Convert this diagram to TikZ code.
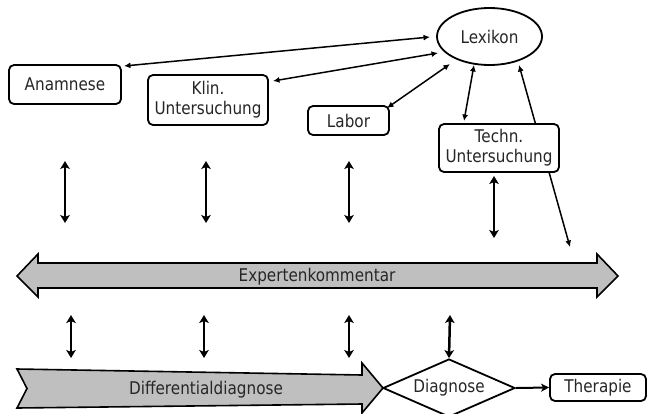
\documentclass[tikz,border=0pt]{standalone}
\usepackage{fontspec}
\setmainfont{DejaVu Sans}[FakeStretch=0.87]
\usetikzlibrary{shapes.geometric,arrows.meta}

\begin{document}
\begin{tikzpicture}[x=1pt,y=-1pt,
  lbl/.style={font=\fontsize{17.5}{20}\selectfont,text=black!85,align=center,inner sep=0pt},
  box/.style={lbl,draw=black,line width=1.8pt,rounded corners=5pt,fill=white},
  thin/.style={line width=1.5pt,{Latex[length=6.5pt,width=6pt]}-{Latex[length=6.5pt,width=6pt]}},
  thick/.style={line width=2.5pt,{Stealth[length=8pt,width=9.5pt,inset=2pt]}-{Stealth[length=8pt,width=9.5pt,inset=2pt]}},
  bigarrow/.style={draw=black,line width=1.6pt,fill=black!25,line join=miter}]
\useasboundingbox (0,0) rectangle (647,413);
\clip (0,0) rectangle (647,413);

% free ends of the connectors
\coordinate (lexA) at (430,37);
\coordinate (lexK) at (438,53);
\coordinate (lexL) at (450,64);
\coordinate (lexT) at (474,65);
\coordinate (lexE) at (519,65);
\coordinate (anaT) at (124,66);
\coordinate (kliT) at (273,81);
\coordinate (labT) at (387,108);
\coordinate (tecT) at (464,121);
\coordinate (expT) at (570,247);

% line from the comment arrow up to the lexicon, passing behind the box
\draw[thin] (expT) -- (lexE);

% sources
\node[box,minimum width=112pt,minimum height=39pt] (ana) at (65,84.5) {Anamnese};
\node[box,minimum width=120pt,minimum height=50pt] (kli) at (208,100) {Klin.\\Untersuchung};
\node[box,minimum width=81pt,minimum height=29pt] (lab) at (348.5,120.5) {Labor};
\node[box,minimum width=120pt,minimum height=48pt] (tec) at (499,148) {Techn.\\Untersuchung};
\node[lbl,draw=black,line width=1.8pt,ellipse,minimum width=105pt,minimum height=57pt] (lex) at (489.5,36.5) {Lexikon};

\draw[thin] (anaT) -- (lexA);
\draw[thin] (kliT) -- (lexK);
\draw[thin] (labT) -- (lexL);
\draw[thin] (tecT) -- (lexT);

% expert comment (double arrow)
\draw[bigarrow] (17,276) -- (38,254) -- (38,263) -- (597,263) -- (597,254) -- (618,276)
  -- (597,297) -- (597,288) -- (38,288) -- (38,297) -- cycle;
\node[lbl] (exp) at (317,277) {Expertenkommentar};

% differential diagnosis (arrow)
\draw[bigarrow] (17,369) -- (362,375) -- (362,363) -- (383,388) -- (362,413) -- (362,404)
  -- (17,408) -- (27,388.5) -- cycle;
\node[lbl] (dif) at (206,390) {Differentialdiagnose};

\node[lbl,draw=black,line width=1.8pt,fill=white,diamond,aspect=2.3,minimum width=132pt,minimum height=58pt] (dia) at (449,388) {Diagnose};
\node[box,minimum width=96pt,minimum height=27pt] (the) at (598,387.5) {Therapie};
\draw[line width=2pt,-{Stealth[length=8pt,width=8pt,inset=2pt]}] (dia.east) -- (the.west);

% exchange arrows
\coordinate (a1) at (65,161);  \coordinate (b1) at (65,223);
\coordinate (a2) at (206,161); \coordinate (b2) at (206,223);
\coordinate (a3) at (349,161); \coordinate (b3) at (349,223);
\coordinate (a4) at (494,176); \coordinate (b4) at (494,238);
\draw[thick] (a1) -- (b1);
\draw[thick] (a2) -- (b2);
\draw[thick] (a3) -- (b3);
\draw[thick] (a4) -- (b4);

\coordinate (c1) at (71,315);  \coordinate (d1) at (71,358);
\coordinate (c2) at (204,315); \coordinate (d2) at (204,358);
\coordinate (c3) at (349,315); \coordinate (d3) at (349,358);
\coordinate (c4) at (450,315);
\draw[thick] (c1) -- (d1);
\draw[thick] (c2) -- (d2);
\draw[thick] (c3) -- (d3);
\draw[thick] (c4) -- (dia.north);
\end{tikzpicture}
\end{document}
